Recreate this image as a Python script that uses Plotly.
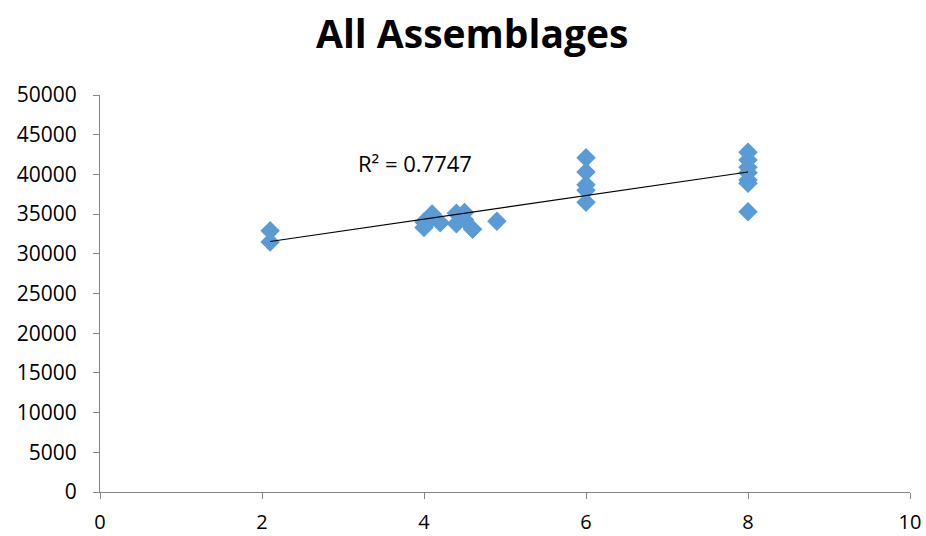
import numpy as np
import plotly.graph_objects as go

# Assemblage measurements
x_vals = [2.1, 2.1,
          4.0, 4.0, 4.1, 4.1, 4.2, 4.4, 4.4, 4.5, 4.5, 4.6, 4.9,
          6.0, 6.0, 6.0, 6.0, 6.0,
          8.0, 8.0, 8.0, 8.0, 8.0, 8.0, 8.0]
y_vals = [32900, 31500,
          33300, 34000, 35000, 34500, 33900, 35100, 33800, 35200, 34300, 33100, 34100,
          42100, 40300, 38700, 38000, 36500,
          42800, 41800, 40900, 40200, 39300, 38900, 35300]

r2_label = "R² = 0.7747"

x_arr = np.array(x_vals)
y_arr = np.array(y_vals)
slope, intercept = np.polyfit(x_arr, y_arr, 1)
fit_x = np.array([x_arr.min(), x_arr.max()])
fit_y = slope * fit_x + intercept

font_family = "Open Sans, Lato, sans-serif"
axis_color = "#868686"

fig = go.Figure()
fig.add_trace(go.Scatter(
    x=x_vals, y=y_vals, mode="markers",
    marker=dict(symbol="diamond", size=15, color="#5B9BD5", line=dict(width=0)),
    showlegend=False,
))
fig.add_trace(go.Scatter(
    x=fit_x, y=fit_y, mode="lines",
    line=dict(color="black", width=1.2),
    showlegend=False,
))

fig.add_annotation(x=3.89, y=41400, text=r2_label, showarrow=False,
                   font=dict(family=font_family, size=22, color="black"))

fig.update_layout(
    width=926, height=536,
    margin=dict(l=100, r=16, t=95, b=44),
    paper_bgcolor="white", plot_bgcolor="white",
    title=dict(text="<b>All Assemblages</b>", x=0.51, xanchor="center",
               y=0.935, yanchor="middle",
               font=dict(family=font_family, size=39, color="black")),
    font=dict(family=font_family, size=21, color="black"),
)
fig.update_xaxes(range=[0, 10], dtick=2, tick0=0, showgrid=False, zeroline=False,
                 showline=True, linecolor=axis_color, linewidth=1,
                 ticks="outside", ticklen=6, tickcolor=axis_color,
                 tickfont=dict(size=20), ticklabelstandoff=6, automargin=False)
fig.update_yaxes(range=[0, 50000], dtick=5000, tick0=0, tickformat="d",
                 showgrid=False, zeroline=False,
                 showline=True, linecolor=axis_color, linewidth=1,
                 ticks="outside", ticklen=6, tickcolor=axis_color,
                 tickfont=dict(size=21), ticklabelstandoff=12, automargin=False)

fig.write_html("out.html")
